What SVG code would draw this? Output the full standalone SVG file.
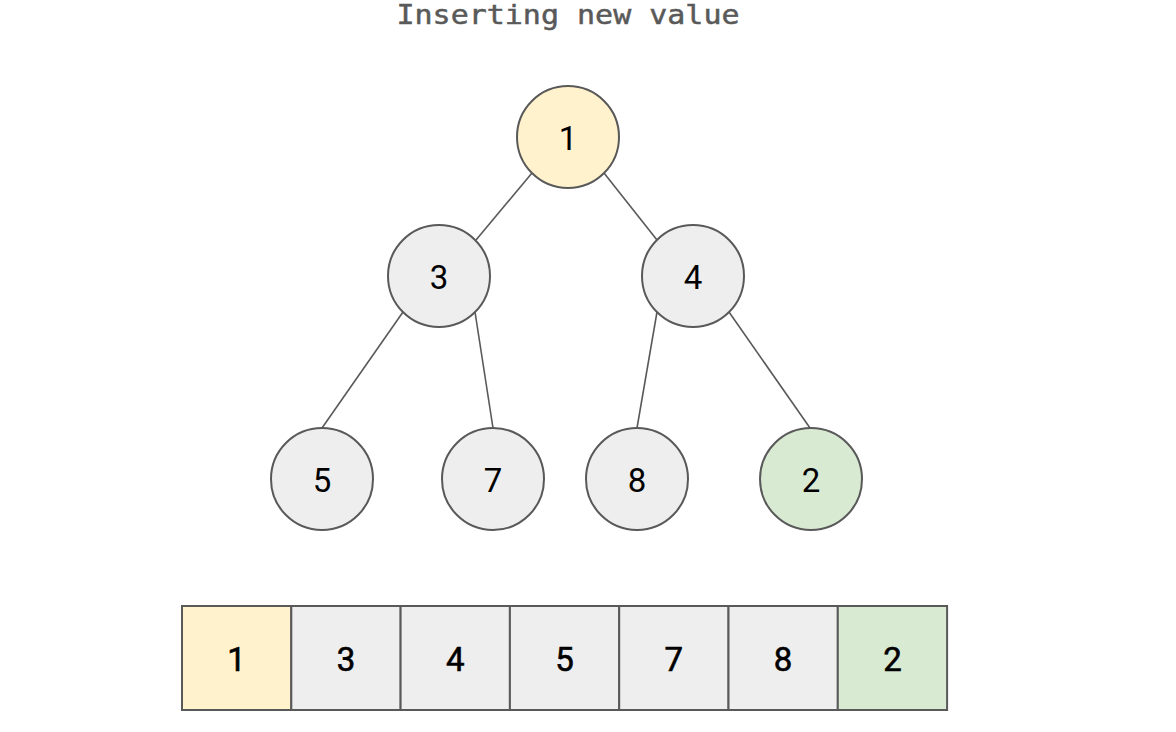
<svg xmlns="http://www.w3.org/2000/svg" width="1176" height="732" viewBox="0 0 1176 732">
<style>
.n{stroke:#595959;stroke-width:2}
.y{fill:#fff2cc}
.g{fill:#eeeeee}
.gr{fill:#d9ead3}
.t{font-family:Roboto,"Liberation Sans",sans-serif;font-size:33px;fill:#000;text-anchor:middle;dominant-baseline:central}
.a{stroke:#000;stroke-width:0.6}
.e{stroke:#595959;stroke-width:1.6;fill:none}
</style>
<rect width="1176" height="732" fill="#fff"/>
<text x="568" y="24" font-family="'DejaVu Sans Mono','Liberation Mono',monospace" font-size="27" fill="#595959" stroke="#595959" stroke-width="0.5" text-anchor="middle" textLength="343" lengthAdjust="spacingAndGlyphs">Inserting new value</text>
<g id="edges">
<line class="e" x1="532" y1="173" x2="476" y2="240"/>
<line class="e" x1="604" y1="173" x2="657" y2="240"/>
<line class="e" x1="403" y1="312" x2="322" y2="428"/>
<line class="e" x1="475" y1="312" x2="493" y2="428"/>
<line class="e" x1="657" y1="312" x2="637" y2="428"/>
<line class="e" x1="729" y1="312" x2="810" y2="428"/>
</g>
<g id="node-root"><circle class="n y" cx="568" cy="137" r="51"/><text class="t" x="568" y="138">1</text></g>
<g id="node-3"><circle class="n g" cx="439" cy="276" r="51"/><text class="t" x="439" y="277">3</text></g>
<g id="node-4"><circle class="n g" cx="693" cy="276" r="51"/><text class="t" x="693" y="277">4</text></g>
<g id="node-5"><circle class="n g" cx="322" cy="479" r="51"/><text class="t" x="322" y="480">5</text></g>
<g id="node-7"><circle class="n g" cx="493" cy="479" r="51"/><text class="t" x="493" y="480">7</text></g>
<g id="node-8"><circle class="n g" cx="637" cy="479" r="51"/><text class="t" x="637" y="480">8</text></g>
<g id="node-2"><circle class="n gr" cx="811" cy="479" r="51"/><text class="t" x="811" y="480">2</text></g>
<g id="array">
<rect class="n y" x="182" y="606" width="109.3" height="104"/><text class="t a" x="236.6" y="659">1</text>
<rect class="n g" x="291.3" y="606" width="109.3" height="104"/><text class="t a" x="345.9" y="659">3</text>
<rect class="n g" x="400.6" y="606" width="109.3" height="104"/><text class="t a" x="455.2" y="659">4</text>
<rect class="n g" x="509.9" y="606" width="109.3" height="104"/><text class="t a" x="564.5" y="659">5</text>
<rect class="n g" x="619.2" y="606" width="109.3" height="104"/><text class="t a" x="673.8" y="659">7</text>
<rect class="n g" x="728.5" y="606" width="109.3" height="104"/><text class="t a" x="783.1" y="659">8</text>
<rect class="n gr" x="837.8" y="606" width="109.3" height="104"/><text class="t a" x="892.4" y="659">2</text>
</g>
</svg>
